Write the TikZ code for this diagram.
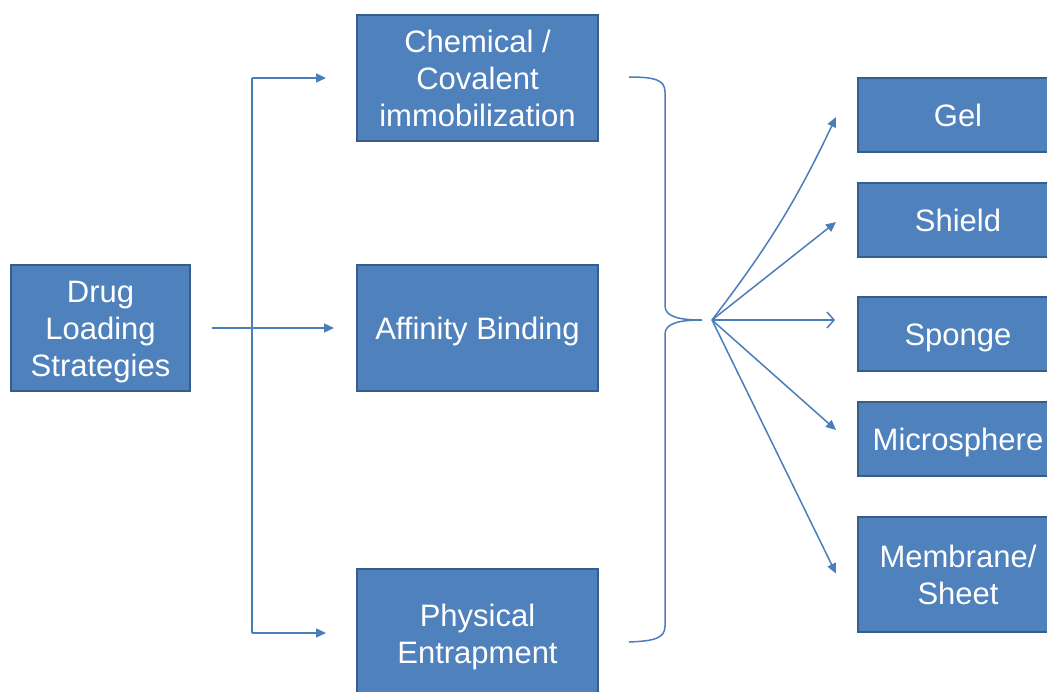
\documentclass[tikz,border=0pt]{standalone}
\usepackage{fontspec}
\setmainfont{Liberation Sans}
\usetikzlibrary{arrows.meta}
\definecolor{boxblue}{HTML}{4F81BD}
\definecolor{boxedge}{HTML}{385D8A}
\definecolor{linkblue}{HTML}{4A7EBB}
\tikzset{
	stratbox/.style={draw=boxedge,line width=2pt,fill=boxblue,text=white,align=center,inner sep=0pt,font=\fontsize{31}{37}\selectfont,
		text height=29pt,text depth=6pt},
	twolines/.style={text height=66pt},
	threelines/.style={text height=103pt},
	formbox/.style={stratbox,minimum width=200pt,minimum height=74pt},
	link/.style={draw=linkblue,line width=1.5pt},
	fanarrow/.style={link,-{Triangle[length=10pt,width=9pt]}},
	openarrow/.style={link,-{Straight Barb[length=7pt,width=16pt]}}
}
\begin{document}
\begin{tikzpicture}[x=1pt,y=-1pt]
		\useasboundingbox (0,0) rectangle (1047,691);
		\clip (0,0) rectangle (1047,691);
		\fill[white] (0,0) rectangle (1047,691);
		% left and middle column
		\node[stratbox,threelines,minimum width=179pt,minimum height=126pt] (drug) at (100.5,328) {Drug\\Loading\\Strategies};
		\node[stratbox,threelines,minimum width=241pt,minimum height=126pt] (chem) at (477.5,78) {Chemical /\\Covalent\\immobilization};
		\node[stratbox,minimum width=241pt,minimum height=126pt] (affin) at (477.5,328) {Affinity Binding};
		\node[stratbox,twolines,minimum width=241pt,minimum height=128pt] (phys) at (477.5,633) {Physical\\Entrapment};
		% right column
		\node[formbox] (gel) at (958,115) {Gel};
		\node[formbox] (shield) at (958,220) {Shield};
		\node[formbox] (sponge) at (958,334) {Sponge};
		\node[formbox] (micro) at (958,439) {Microsphere};
		\node[formbox,twolines,minimum height=115pt] (memb) at (958,574.5) {Membrane/\\Sheet};
		% connectors
		\coordinate (bus) at (252,327);
		\coordinate (fan) at (712,320);
		\draw[fanarrow,shorten <=21pt,shorten >=22pt] (drug.east) -- (affin.west);
		\draw[link] (bus |- chem.west) -- (bus |- phys.west);
		\draw[fanarrow,shorten >=30pt] (bus |- chem.west) -- (chem.west);
		\draw[fanarrow,shorten >=30pt] (bus |- phys.west) -- (phys.west);
		\draw[link] (629,77) .. controls (655,77) and (665,80) .. (665,92) -- (665,306) .. controls (665,317) and (680,320) .. (702,320) .. controls (680,320) and (665,323) .. (665,334) -- (665,626) .. controls (665,638) and (655,641) .. (629,642);
		\draw[fanarrow] (fan) to[bend right=6] ([xshift=-21pt,yshift=-2pt]gel.west);
		\draw[fanarrow] (fan) -- ([xshift=-21pt,yshift=-2pt]shield.west);
		\draw[openarrow] (fan) -- ([xshift=-22pt,yshift=14pt]sponge.west);
		\draw[fanarrow] (fan) -- ([xshift=-21pt,yshift=9pt]micro.west);
		\draw[fanarrow] (fan) -- ([xshift=-21pt,yshift=1pt]memb.west);
		
		\end{tikzpicture}
\end{document}
